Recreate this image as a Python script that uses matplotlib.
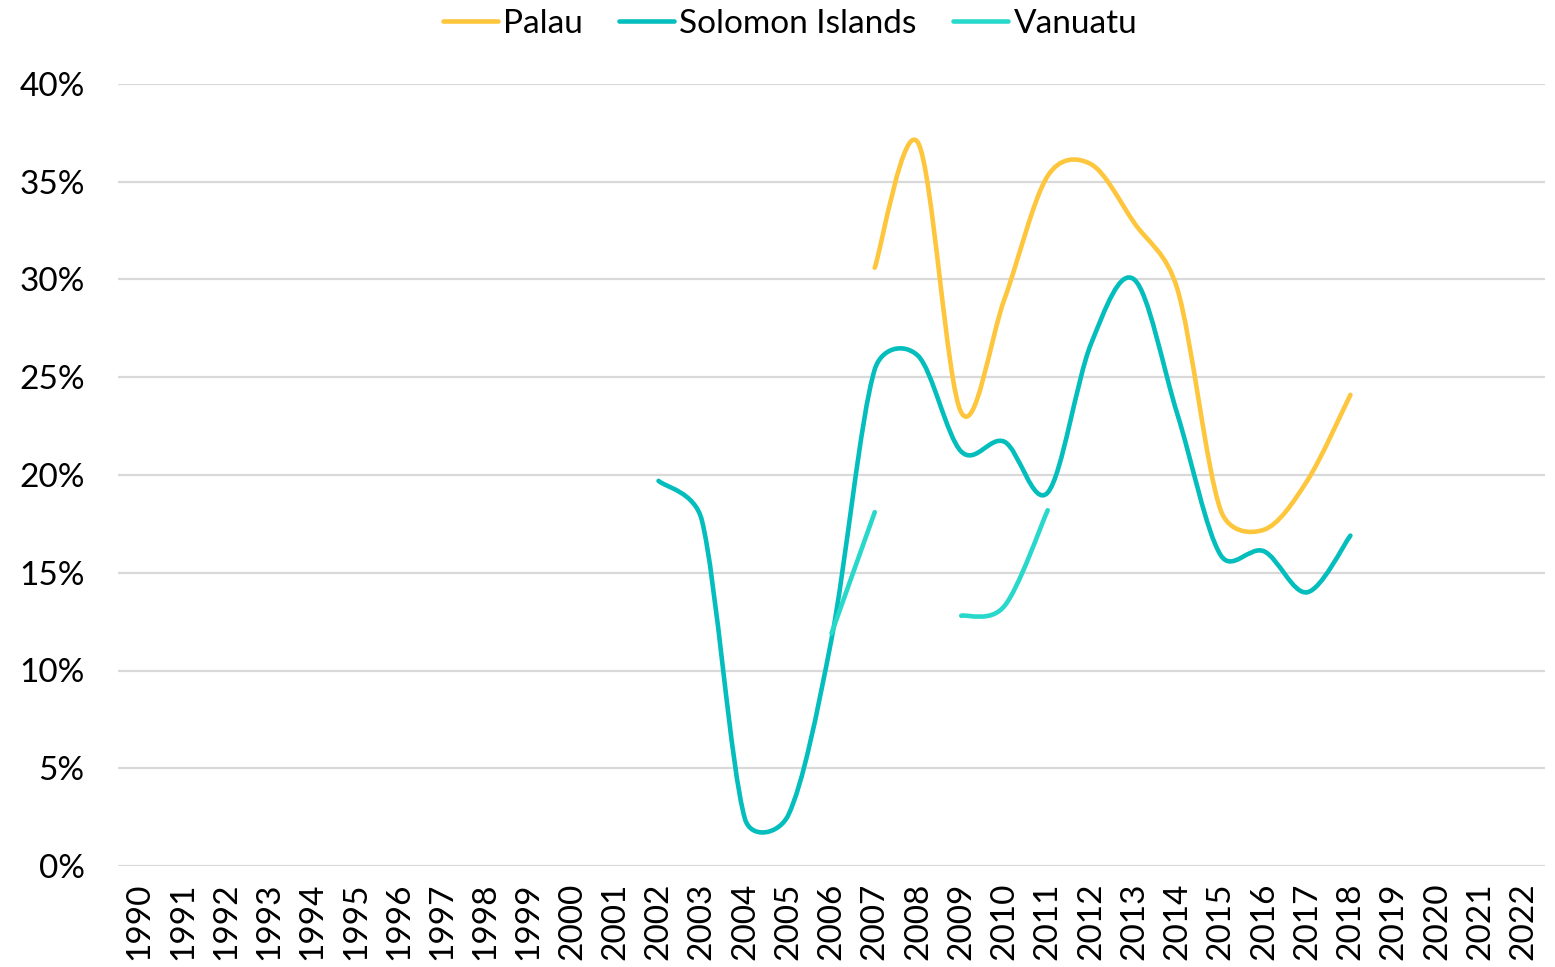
import numpy as np
import matplotlib
matplotlib.use("Agg")
import matplotlib.pyplot as plt
from matplotlib.path import Path
from matplotlib.patches import PathPatch
from matplotlib.lines import Line2D

plt.rcParams['font.family'] = ['Lato', 'DejaVu Sans']

# Category axis
years = [str(y) for y in range(1990, 2023)]

# Series values (share, %) for 2002..2018; nan = no data
data_years = list(range(2002, 2019))
palau = [np.nan, np.nan, np.nan, np.nan, np.nan, 30.6, 37.0, 23.2, 29.0,
         35.3, 35.9, 32.9, 29.5, 18.2, 17.2, 19.7, 24.1]
solomon = [19.7, 17.7, 2.4, 2.6, 11.6, 25.4, 26.1, 21.2, 21.7,
           19.1, 26.7, 30.0, 23.1, 15.9, 16.1, 14.0, 16.9]
vanuatu = [np.nan, np.nan, np.nan, np.nan, 11.9, 18.1, np.nan, 12.8, 13.3,
           18.2, np.nan, np.nan, np.nan, np.nan, np.nan, np.nan, np.nan]

series = [("Palau", palau, "#FEC63D"),
          ("Solomon Islands", solomon, "#03BEBC"),
          ("Vanuatu", vanuatu, "#28D8CB")]


def smooth_path(ax, xs, ys):
    """Bezier path through the points with spreadsheet-style smoothing.

    Control points are built in display space; each tangent handle is
    limited to half of its segment length to avoid overshoot.
    """
    disp = ax.transData.transform(np.column_stack([xs, ys]))
    n = len(disp)
    verts = [disp[0]]
    codes = [Path.MOVETO]
    for i in range(n - 1):
        p0 = disp[i - 1] if i > 0 else disp[i]
        p1 = disp[i]
        p2 = disp[i + 1]
        p3 = disp[i + 2] if i + 2 < n else disp[i + 1]
        d12 = np.hypot(*(p2 - p1))
        d02 = np.hypot(*(p2 - p0))
        d13 = np.hypot(*(p3 - p1))
        f1 = 1 / 6 if d02 / 6 < d12 / 2 else d12 / (2 * d02)
        f2 = 1 / 6 if d13 / 6 < d12 / 2 else d12 / (2 * d13)
        c1 = p1 + f1 * (p2 - p0)
        c2 = p2 - f2 * (p3 - p1)
        verts += [c1, c2, p2]
        codes += [Path.CURVE4] * 3
    data_verts = ax.transData.inverted().transform(np.array(verts))
    return Path(data_verts, codes)


fig = plt.figure(figsize=(15.55, 9.67), dpi=100)
ax = fig.add_axes([118 / 1555, 101 / 967, 1427 / 1555, 782 / 967])
ax.set_xlim(-0.5, len(years) - 0.5)
ax.set_ylim(0, 0.40)

for name, vals, color in series:
    vals = np.asarray(vals, dtype=float)
    xs = np.array([years.index(str(y)) for y in data_years], dtype=float)
    ys = vals / 100.0
    ok = ~np.isnan(ys)
    start = None
    for i in range(len(ys) + 1):
        if i < len(ys) and ok[i]:
            if start is None:
                start = i
        else:
            if start is not None:
                seg_x = xs[start:i]
                seg_y = ys[start:i]
                if len(seg_x) > 1:
                    patch = PathPatch(smooth_path(ax, seg_x, seg_y), fill=False,
                                      edgecolor=color, linewidth=3.3,
                                      capstyle='round', joinstyle='round',
                                      zorder=3)
                    ax.add_patch(patch)
                start = None

ax.set_xticks(range(len(years)))
ax.set_xticklabels(years, rotation=90, fontsize=24)
yt = np.arange(0, 0.41, 0.05)
ax.set_yticks(yt)
ax.set_yticklabels([f"{int(round(v * 100))}%" for v in yt], fontsize=24)
ax.tick_params(length=0)
ax.tick_params(axis='y', pad=24)
ax.tick_params(axis='x', pad=12)
ax.grid(axis='y', color='#D9D9D9', linewidth=1.6)
ax.set_axisbelow(True)
for s in ax.spines.values():
    s.set_visible(False)

handles = [Line2D([0], [0], color=c, linewidth=3.3, solid_capstyle='round')
           for _, _, c in series]
fig.legend(handles, [n for n, _, _ in series], loc='upper center',
           bbox_to_anchor=(790 / 1555, 1.022), ncol=3, frameon=False,
           fontsize=24, handlelength=1.65, handletextpad=0.15,
           columnspacing=1.1)

fig.savefig("out.png", dpi=100)
